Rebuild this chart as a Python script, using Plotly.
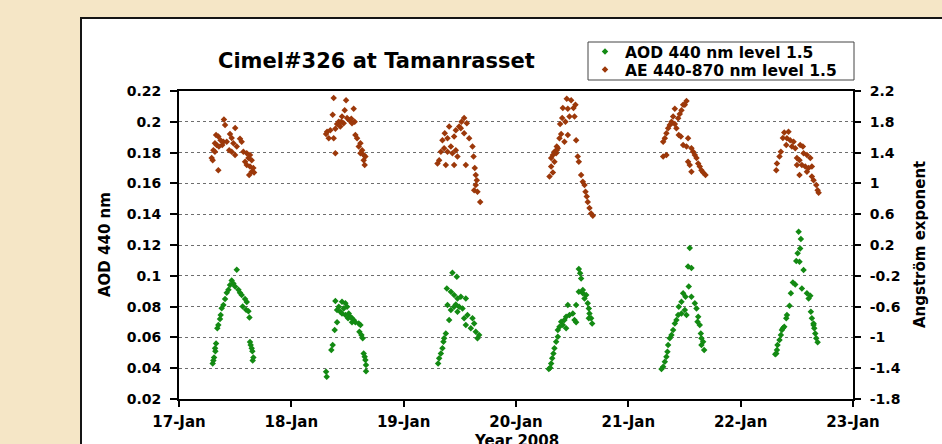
import numpy as np
import pandas as pd
import plotly.graph_objects as go

# Sun-photometer retrievals, Tamanrasset, January 2008 (time = decimal day of January)
aod_day = [
    17.514, 17.469, 17.484, 17.454, 17.499, 17.529, 17.440, 17.425, 17.543, 17.558, 17.588, 17.410,
    17.395, 17.603, 17.567, 17.597, 17.618, 17.627, 17.380, 17.371, 17.365, 17.350, 17.341, 17.632,
    17.638, 17.647, 17.653, 17.662, 17.656, 17.330, 17.324, 17.312, 17.306, 17.300, 17.321,
    18.392, 18.451, 18.481, 18.422, 18.466, 18.496, 18.407, 18.436, 18.451, 18.481, 18.511, 18.526,
    18.540, 18.555, 18.570, 18.600, 18.615, 18.407, 18.386, 18.606, 18.624, 18.635, 18.368, 18.356,
    18.644, 18.653, 18.659, 18.665, 18.665, 18.309, 18.315, 18.540, 18.505,
    19.434, 19.473, 19.384, 19.420, 19.449, 19.479, 19.509, 19.553, 19.390, 19.464, 19.494, 19.524,
    19.420, 19.479, 19.538, 19.568, 19.613, 19.628, 19.598, 19.642, 19.672, 19.657, 19.553, 19.405,
    19.375, 19.354, 19.345, 19.331, 19.316, 19.307, 19.360, 19.449,
    20.559, 20.571, 20.580, 20.559, 20.595, 20.625, 20.610, 20.639, 20.648, 20.654, 20.669, 20.678,
    20.461, 20.535, 20.506, 20.476, 20.446, 20.521, 20.431, 20.535, 20.402, 20.417, 20.387, 20.372,
    20.446, 20.372, 20.357, 20.342, 20.333, 20.322, 20.313, 20.304, 20.292, 20.595, 20.648,
    21.547, 21.532, 21.562, 21.538, 21.488, 21.509, 21.562, 21.473, 21.592, 21.449, 21.607, 21.503,
    21.473, 21.443, 21.518, 21.622, 21.616, 21.428, 21.414, 21.636, 21.399, 21.645, 21.651, 21.666,
    21.675, 21.369, 21.354, 21.348, 21.339, 21.325, 21.310, 21.295, 21.384, 21.651,
    22.516, 22.536, 22.530, 22.507, 22.495, 22.524, 22.560, 22.465, 22.486, 22.447, 22.545, 22.590,
    22.620, 22.605, 22.435, 22.625, 22.412, 22.634, 22.406, 22.649, 22.388, 22.655, 22.367, 22.664,
    22.673, 22.685, 22.358, 22.346, 22.328, 22.323, 22.317, 22.308, 22.376, 22.649,
]
aod_value = [
    0.104, 0.097, 0.095, 0.094, 0.093, 0.091, 0.091, 0.089, 0.089, 0.0875, 0.085, 0.085,
    0.081, 0.083, 0.080, 0.078, 0.077, 0.073, 0.079, 0.0745, 0.072, 0.068, 0.066, 0.057,
    0.055, 0.053, 0.051, 0.047, 0.045, 0.056, 0.051, 0.047, 0.045, 0.043, 0.053,
    0.0836, 0.0832, 0.0821, 0.0799, 0.0788, 0.0799, 0.0778, 0.0767, 0.0756, 0.0745, 0.0756, 0.0734,
    0.0724, 0.0713, 0.0698, 0.0691, 0.0680, 0.0698, 0.0648, 0.0637, 0.0615, 0.0594, 0.0550, 0.0518,
    0.0496, 0.0474, 0.0453, 0.0420, 0.0381, 0.0377, 0.0345, 0.0698, 0.0724,
    0.102, 0.0994, 0.0918, 0.0897, 0.0875, 0.0853, 0.0864, 0.0853, 0.0810, 0.0814, 0.0799, 0.0788,
    0.0778, 0.0767, 0.0724, 0.0745, 0.0724, 0.0691, 0.0659, 0.0637, 0.0615, 0.0594, 0.0680, 0.0713,
    0.0626, 0.0572, 0.0529, 0.0496, 0.0464, 0.0431, 0.0594, 0.0799,
    0.1044, 0.1016, 0.0983, 0.0897, 0.0886, 0.0875, 0.0853, 0.0821, 0.0788, 0.0756, 0.0724, 0.0691,
    0.0810, 0.0810, 0.0756, 0.0745, 0.0734, 0.0713, 0.0713, 0.0698, 0.0702, 0.0680, 0.0669, 0.0648,
    0.0659, 0.0604, 0.0572, 0.0529, 0.0496, 0.0464, 0.0431, 0.0403, 0.0394, 0.0908, 0.0724,
    0.118, 0.106, 0.105, 0.093, 0.0886, 0.0864, 0.0864, 0.0832, 0.0821, 0.0799, 0.0788, 0.0778,
    0.0756, 0.0745, 0.0745, 0.0734, 0.0702, 0.0713, 0.0691, 0.0680, 0.0648, 0.0626, 0.0594, 0.0572,
    0.0518, 0.0594, 0.0550, 0.0507, 0.0474, 0.0442, 0.0410, 0.0394, 0.0615, 0.0550,
    0.1286, 0.1239, 0.1178, 0.1146, 0.1096, 0.1092, 0.1037, 0.0957, 0.0944, 0.0886, 0.0918, 0.0886,
    0.0871, 0.0853, 0.0806, 0.0767, 0.0745, 0.0724, 0.0724, 0.0691, 0.0669, 0.0659, 0.0648, 0.0626,
    0.0594, 0.0568, 0.0615, 0.0583, 0.0550, 0.0518, 0.0496, 0.0490, 0.0659, 0.0680,
]

ae_day = [
    17.400, 17.410, 17.500, 17.330, 17.350, 17.454, 17.469, 17.370, 17.395, 17.425, 17.320, 17.335,
    17.355, 17.385, 17.484, 17.543, 17.558, 17.514, 17.447, 17.469, 17.306, 17.320, 17.291, 17.300,
    17.499, 17.573, 17.603, 17.632, 17.618, 17.588, 17.647, 17.603, 17.632, 17.662, 17.647, 17.625,
    17.668, 17.350,
    18.377, 18.487, 18.555, 18.475, 18.368, 18.451, 18.496, 18.517, 18.564, 18.422, 18.407, 18.318,
    18.347, 18.392, 18.436, 18.466, 18.540, 18.570, 18.585, 18.615, 18.600, 18.630, 18.615, 18.644,
    18.659, 18.644, 18.653, 18.392, 18.377, 18.333, 18.309, 18.534, 18.445,
    19.538, 19.562, 19.515, 19.494, 19.405, 19.464, 19.366, 19.538, 19.583, 19.449, 19.390, 19.345,
    19.420, 19.360, 19.390, 19.464, 19.331, 19.479, 19.316, 19.301, 19.375, 19.449, 19.553, 19.613,
    19.622, 19.633, 19.642, 19.651, 19.642, 19.628, 19.657, 19.681, 19.434, 19.509,
    20.452, 20.491, 20.529, 20.417, 20.512, 20.461, 20.476, 20.521, 20.411, 20.440, 20.393, 20.402,
    20.461, 20.387, 20.431, 20.535, 20.363, 20.372, 20.342, 20.328, 20.313, 20.342, 20.357, 20.550,
    20.559, 20.313, 20.328, 20.298, 20.580, 20.595, 20.610, 20.619, 20.630, 20.639, 20.654, 20.669,
    20.684, 20.363,
    21.518, 21.488, 21.414, 21.473, 21.458, 21.443, 21.399, 21.384, 21.369, 21.414, 21.354, 21.339,
    21.428, 21.449, 21.325, 21.310, 21.467, 21.532, 21.488, 21.518, 21.562, 21.577, 21.592, 21.607,
    21.622, 21.636, 21.532, 21.547, 21.310, 21.339, 21.562, 21.651, 21.666, 21.687, 21.384, 21.503,
    22.388, 22.426, 22.376, 22.412, 22.441, 22.471, 22.406, 22.456, 22.486, 22.530, 22.554, 22.358,
    22.346, 22.501, 22.524, 22.560, 22.590, 22.620, 22.545, 22.575, 22.605, 22.634, 22.323, 22.317,
    22.524, 22.634, 22.649, 22.673, 22.685, 22.694, 22.590, 22.501,
]
ae_value = [
    1.83, 1.76, 1.72, 1.63, 1.61, 1.64, 1.59, 1.56, 1.54, 1.54, 1.52, 1.50,
    1.48, 1.50, 1.52, 1.58, 1.54, 1.48, 1.43, 1.41, 1.43, 1.41, 1.33, 1.30,
    1.37, 1.41, 1.39, 1.37, 1.33, 1.28, 1.30, 1.24, 1.22, 1.20, 1.15, 1.11,
    1.14, 1.17,
    2.11, 2.08, 1.97, 1.95, 1.89, 1.87, 1.85, 1.82, 1.80, 1.80, 1.77, 1.67,
    1.69, 1.71, 1.74, 1.78, 1.78, 1.63, 1.585, 1.52, 1.48, 1.43, 1.39, 1.37,
    1.35, 1.30, 1.24, 1.39, 1.585, 1.585, 1.64, 1.84, 1.80,
    1.85, 1.78, 1.80, 1.74, 1.74, 1.69, 1.65, 1.65, 1.585, 1.61, 1.585, 1.56,
    1.48, 1.455, 1.41, 1.43, 1.41, 1.35, 1.30, 1.26, 1.24, 1.24, 1.24, 1.48,
    1.35, 1.20, 1.11, 1.04, 0.98, 0.91, 0.89, 0.76, 1.39, 1.715,
    2.10, 2.08, 2.02, 1.98, 1.98, 1.97, 1.87, 1.87, 1.85, 1.80, 1.77, 1.64,
    1.63, 1.585, 1.54, 1.56, 1.48, 1.455, 1.41, 1.37, 1.33, 1.28, 1.39, 1.35,
    1.28, 1.22, 1.14, 1.09, 1.11, 1.02, 0.98, 0.89, 0.83, 0.76, 0.68, 0.61,
    0.58, 1.43,
    2.07, 2.02, 1.97, 1.95, 1.90, 1.845, 1.87, 1.80, 1.76, 1.77, 1.715, 1.65,
    1.715, 1.63, 1.585, 1.54, 1.61, 1.585, 1.50, 1.48, 1.455, 1.41, 1.37, 1.33,
    1.26, 1.22, 1.28, 1.24, 1.35, 1.37, 1.15, 1.17, 1.14, 1.11, 1.78, 2.02,
    1.66, 1.67, 1.59, 1.585, 1.56, 1.54, 1.50, 1.48, 1.455, 1.50, 1.48, 1.41,
    1.35, 1.33, 1.30, 1.39, 1.37, 1.33, 1.24, 1.22, 1.20, 1.22, 1.26, 1.17,
    1.11, 1.09, 1.04, 0.98, 0.91, 0.88, 1.15, 1.24,
]

aod_ticks = [0.02, 0.04, 0.06, 0.08, 0.1, 0.12, 0.14, 0.16, 0.18, 0.2, 0.22]
ae_ticks = [-1.8, -1.4, -1, -0.6, -0.2, 0.2, 0.6, 1, 1.4, 1.8, 2.2]
date_ticks = ["17-Jan", "18-Jan", "19-Jan", "20-Jan", "21-Jan", "22-Jan", "23-Jan"]

aod_name = "AOD 440 nm level 1.5"
ae_name = "AE 440-870 nm level 1.5"
title_text = "Cimel#326 at Tamanrasset"


def to_dates(days):
    return pd.Timestamp("2008-01-01") + pd.to_timedelta(np.asarray(days) - 1.0, unit="D")


tick_dates = [pd.Timestamp("2008-01-17") + pd.Timedelta(days=i) for i in range(len(date_ticks))]

GREEN = "#138a13"
BROWN = "#9c380a"
FAMILY = "DejaVu Sans"


def bold(size):
    return dict(family=FAMILY, size=size, color="black", weight="bold")


fig = go.Figure()
fig.add_trace(go.Scatter(
    x=to_dates(aod_day), y=aod_value, mode="markers", name=aod_name, yaxis="y",
    legend="legend", marker=dict(symbol="diamond", size=5, color=GREEN),
))
fig.add_trace(go.Scatter(
    x=to_dates(ae_day), y=ae_value, mode="markers", name=ae_name, yaxis="y2",
    legend="legend2", marker=dict(symbol="diamond", size=5, color=BROWN),
))

# plot area sits at x 179..853, y 91..399 of the 942x444 page
L, R, T, B = 179, 89, 91, 45
W, H = 942 - L - R, 444 - T - B


def px_x(p):
    return (p - L) / W


def px_y(p):
    return (444 - B - p) / H


def legend_row(center_y):
    # one legend entry per row, sitting inside the shared legend box
    return dict(
        x=px_x(585), y=px_y(center_y), xanchor="left", yanchor="middle",
        bgcolor="rgba(0,0,0,0)", borderwidth=0, font=bold(15.5),
    )


fig.update_layout(
    width=942, height=444,
    margin=dict(l=L, r=R, t=T, b=B, pad=0),
    paper_bgcolor="#f5e6c6",
    plot_bgcolor="white",
    showlegend=True,
    legend=legend_row(52),
    legend2=legend_row(70),
    xaxis=dict(
        type="date",
        range=[tick_dates[0], tick_dates[-1]],
        tickvals=tick_dates, ticktext=date_ticks,
        ticks="outside", ticklen=6, tickwidth=1.5, tickcolor="black",
        showline=True, linewidth=2, linecolor="black", mirror=True,
        showgrid=False, zeroline=False,
        tickfont=bold(15), ticklabelstandoff=2,
    ),
    yaxis=dict(
        range=[aod_ticks[0], aod_ticks[-1]],
        tickvals=aod_ticks, ticktext=[f"{v:g}" for v in aod_ticks],
        ticks="outside", ticklen=7, tickwidth=1.5, tickcolor="black",
        showline=True, linewidth=2, linecolor="black", mirror=True,
        showgrid=True, gridcolor="#6e6e6e", gridwidth=1, griddash="3px,3px",
        zeroline=False, tickfont=bold(14), ticklabelstandoff=6,
    ),
    yaxis2=dict(
        overlaying="y", side="right",
        range=[ae_ticks[0], ae_ticks[-1]],
        tickvals=ae_ticks, ticktext=[f"{v:g}" for v in ae_ticks],
        ticks="outside", ticklen=6, tickwidth=1.5, tickcolor="black",
        showline=True, linewidth=2, linecolor="black",
        showgrid=False, zeroline=False, tickfont=bold(14), ticklabelstandoff=6,
    ),
    shapes=[
        # white chart panel with dark frame on the parchment page
        dict(type="rect", xref="paper", yref="paper", layer="below",
             x0=px_x(81), x1=px_x(960), y0=px_y(470), y1=px_y(18),
             fillcolor="white", line=dict(color="#151515", width=2)),
        # legend box
        dict(type="rect", xref="paper", yref="paper", layer="below",
             x0=px_x(588), x1=px_x(854), y0=px_y(80), y1=px_y(42),
             fillcolor="white", line=dict(color="#444444", width=1)),
    ],
    annotations=[
        dict(text=title_text, xref="paper", yref="paper", x=px_x(376), y=px_y(61),
             xanchor="center", yanchor="middle", showarrow=False, font=bold(21)),
        dict(text="AOD 440 nm", xref="paper", yref="paper", x=px_x(105), y=px_y(245),
             xanchor="center", yanchor="middle", textangle=-90, showarrow=False, font=bold(15)),
        dict(text="Angström exponent", xref="paper", yref="paper", x=px_x(920), y=px_y(245),
             xanchor="center", yanchor="middle", textangle=-90, showarrow=False, font=bold(15)),
        dict(text="Year 2008", xref="paper", yref="paper", x=px_x(516), y=px_y(430),
             xanchor="center", yanchor="top", showarrow=False, font=bold(15)),
    ],
)

fig.write_html("out.html")
